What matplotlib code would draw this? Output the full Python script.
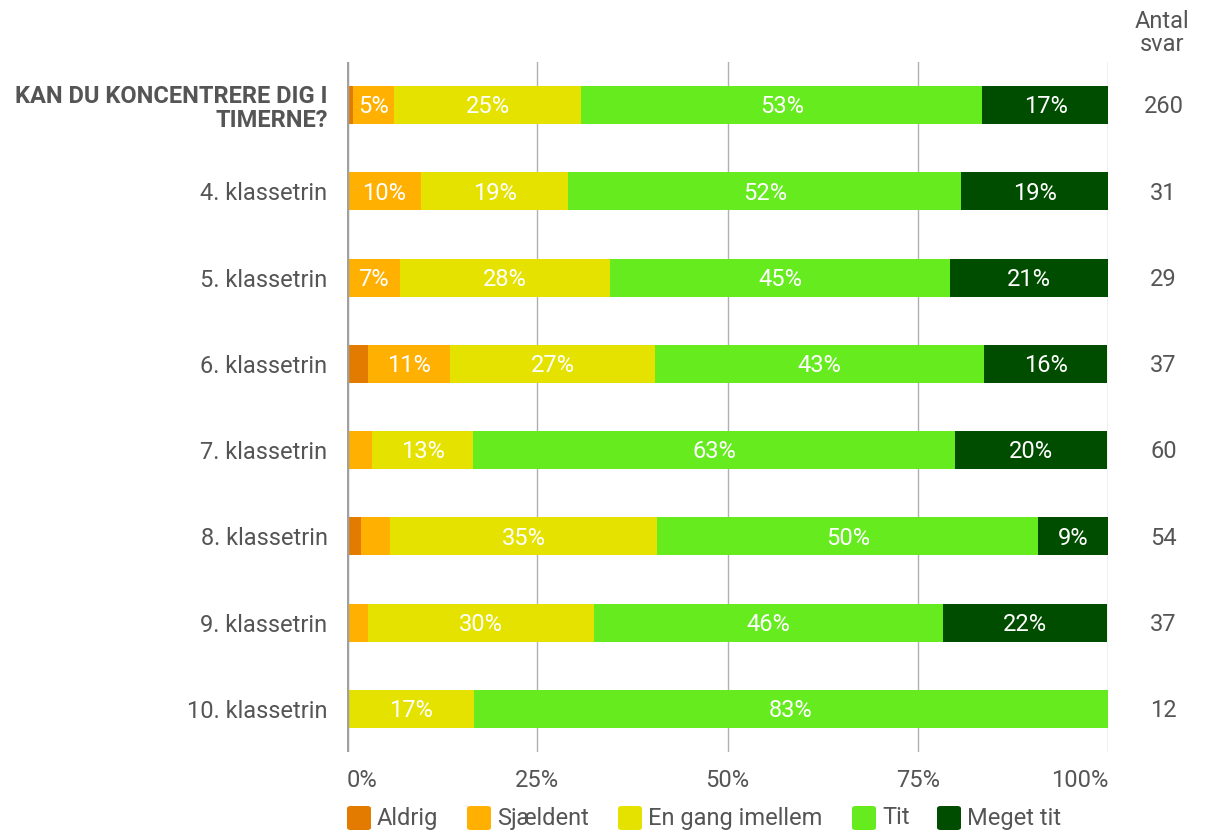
import matplotlib
matplotlib.use("Agg")
import matplotlib.pyplot as plt
from matplotlib.patches import FancyBboxPatch
import numpy as np

plt.rcParams['font.family'] = ['Roboto', 'DejaVu Sans']

categories = ["KAN DU KONCENTRERE DIG I\nTIMERNE?", "4. klassetrin", "5. klassetrin",
              "6. klassetrin", "7. klassetrin", "8. klassetrin", "9. klassetrin",
              "10. klassetrin"]
series_names = ["Aldrig", "Sjældent", "En gang imellem", "Tit", "Meget tit"]
aldrig = [0.8, 0.0, 0.0, 2.7, 0.0, 1.9, 0.0, 0.0]
sjaeldent = [5.4, 9.7, 6.9, 10.8, 3.3, 3.7, 2.7, 0.0]
en_gang = [24.6, 19.4, 27.6, 27.0, 13.3, 35.2, 29.7, 16.7]
tit = [52.7, 51.6, 44.8, 43.2, 63.3, 50.0, 45.9, 83.3]
meget_tit = [16.6, 19.4, 20.7, 16.2, 20.0, 9.3, 21.6, 0.0]
antal_svar = [260, 31, 29, 37, 60, 54, 37, 12]
xtick_labels = ["0%", "25%", "50%", "75%", "100%"]

colors = ["#E27B00", "#FFB000", "#E6E200", "#66EB1E", "#004D00"]
text_col = "#555555"
fs = 17

fig = plt.figure(figsize=(12.05, 8.34), dpi=100)
ax = fig.add_axes([347/1205, 82/834, (1108-347)/1205, (752-62)/834])

series = [aldrig, sjaeldent, en_gang, tit, meget_tit]
y = np.arange(len(categories))
left = np.zeros(len(categories))
for vals, col, name in zip(series, colors, series_names):
    vals = np.array(vals)
    ax.barh(y, vals, left=left, height=0.44, color=col, label=name, zorder=3)
    for yi, (l, v) in enumerate(zip(left, vals)):
        if v >= 4.5:
            ax.text(l + v/2, yi + 0.02, f"{int(round(v))}%", ha="center", va="center",
                    color="white", fontsize=fs, zorder=4)
    left = left + vals

ax.set_xlim(0, 100)
ax.set_ylim(len(categories) - 0.5, -0.5)
ax.set_xticks([0, 25, 50, 75, 100])
ax.set_xticklabels(xtick_labels, fontsize=fs, color=text_col)
xl = ax.get_xticklabels()
xl[0].set_ha("left")
xl[-1].set_ha("right")
ax.set_yticks(y)
ax.set_yticklabels(categories, fontsize=fs, color=text_col)
for i, lab in enumerate(ax.get_yticklabels()):
    if i == 0:
        lab.set_fontweight("bold")
        lab.set_linespacing(1.05)
ax.tick_params(axis="y", length=0, pad=14)
ax.tick_params(axis="x", length=0, pad=12)
for s in ax.spines.values():
    s.set_visible(False)
ax.grid(axis="x", color="#b0b0b0", linewidth=1, zorder=0)
ax.axvline(0, color="#a0a0a0", linewidth=2.5, zorder=5)

for yi, n in enumerate(antal_svar):
    ax.text(1.073, yi + 0.02, str(n), transform=ax.get_yaxis_transform(), ha="center",
            va="center", fontsize=fs, color=text_col)
fig.text(1162/1205, 1 - 33/834, "Antal\nsvar", ha="center", va="center",
         fontsize=fs, color=text_col, linespacing=1.05)

# legend
leg_x = [347, 467, 618, 852, 937]
for xpx, col, name in zip(leg_x, colors, series_names):
    fig.patches.append(FancyBboxPatch((xpx/1205, 1 - 830/834), 24/1205, 24/834,
                                      boxstyle="round,pad=0,rounding_size=0.003",
                                      transform=fig.transFigure, facecolor=col,
                                      edgecolor="none"))
    fig.text((xpx + 30)/1205, 1 - 818/834, name, ha="left", va="center",
             fontsize=fs, color=text_col)

fig.savefig("out.png", dpi=100)
